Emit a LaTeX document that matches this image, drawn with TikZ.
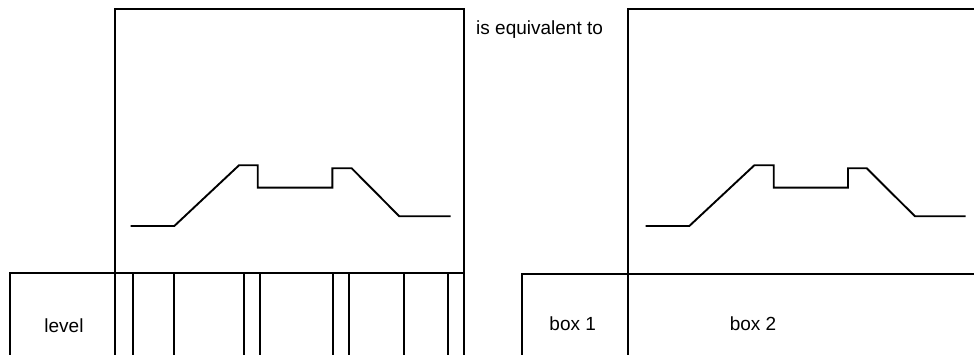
\documentclass[tikz,border=0pt]{standalone}
\usepackage{fontspec}
\setmainfont{Liberation Sans}
\begin{document}
\begin{tikzpicture}[x=1pt,y=-1pt,
  ln/.style={line width=1.9pt,line cap=butt,line join=miter},
  tk/.style={line width=1.8pt},
  lbl/.style={inner sep=0pt,font=\fontsize{19}{22}\selectfont,anchor=base}]
\useasboundingbox (0,0) rectangle (974,355);
\clip (0,0) rectangle (974,355);
% left: big box
\draw[ln] (115,9) rectangle (464,273);
% bottom row
\draw[ln] (10,360) -- (10,273) -- (464,273) -- (464,360);
\draw[ln] (115,273) -- (115,360);
\foreach \x in {133,174,244,260.3,332.7,349.3,404,447.7}
  \draw[tk] (\x,273) -- (\x,360);
% left waveform
\draw[ln] (130.7,226) -- (174.3,226) -- (239,165.3) -- (257.7,165.3) -- (257.7,187.7)
  -- (332.3,187.7) -- (332.3,168.3) -- (351.7,168.3) -- (399.3,216.3) -- (450.7,216.3);
% right: big box
\draw[ln] (627.7,360) -- (627.7,9.3) -- (980,9.3);
\draw[ln] (521.7,360) -- (521.7,274) -- (980,274);
% right waveform
\draw[ln] (645.7,226) -- (689.3,226) -- (754.3,165.3) -- (773.7,165.3) -- (773.7,187.7)
  -- (848,187.7) -- (848,168.3) -- (866.7,168.3) -- (915,216.3) -- (965.7,216.3);
% texts
\node[lbl] (level) at (64,332.5) {level};
\node[lbl,anchor=base west] (eq) at (476,35) {is equivalent to};
\node[lbl] (box1) at (572.7,330.5) {box 1};
\node[lbl] (box2) at (753,330.5) {box 2};
\end{tikzpicture}
\end{document}
